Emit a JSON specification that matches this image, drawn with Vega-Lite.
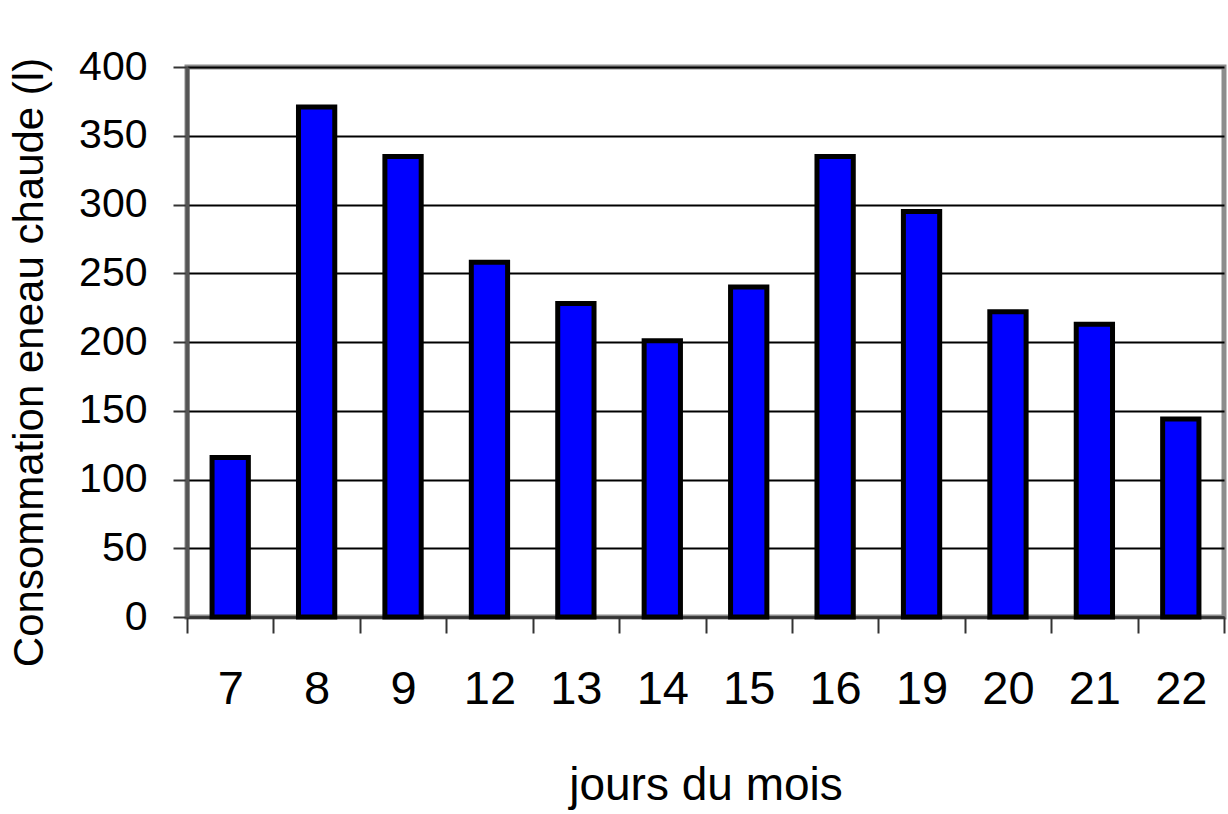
{
  "$schema": "https://vega.github.io/schema/vega-lite/v6.json",
  "autosize": "none",
  "width": 1037,
  "height": 550,
  "padding": {"left": 187, "top": 67, "right": 4, "bottom": 197},
  "background": "white",
  "config": {
    "font": "Liberation Sans",
    "view": {"stroke": "#8c8c8c", "strokeWidth": 5}
  },
  "data": {
    "values": [
      {"jour": 7, "conso": 116},
      {"jour": 8, "conso": 371},
      {"jour": 9, "conso": 335},
      {"jour": 12, "conso": 258},
      {"jour": 13, "conso": 228},
      {"jour": 14, "conso": 201},
      {"jour": 15, "conso": 240},
      {"jour": 16, "conso": 335},
      {"jour": 19, "conso": 295},
      {"jour": 20, "conso": 222},
      {"jour": 21, "conso": 213},
      {"jour": 22, "conso": 144}
    ]
  },
  "mark": {"type": "bar", "fill": "#0000ff", "stroke": "#000000", "strokeWidth": 5, "width": {"band": 0.42}},
  "encoding": {
    "x": {
      "field": "jour",
      "type": "ordinal",
      "scale": {"paddingInner": 0, "paddingOuter": 0},
      "axis": {
        "title": "jours du mois",
        "titleFontSize": 46,
        "titleFontWeight": "normal",
        "titleColor": "#000000",
        "titleY": 146,
        "titleBaseline": "top",
        "labelAngle": 0,
        "labelFontSize": 47,
        "labelColor": "#000000",
        "labelPadding": 33,
        "tickBand": "extent",
        "tickSize": 16,
        "tickWidth": 2,
        "tickColor": "#333333",
        "domainColor": "#333333",
        "domainWidth": 2,
        "grid": false
      }
    },
    "y": {
      "field": "conso",
      "type": "quantitative",
      "scale": {"domain": [0, 400], "nice": false},
      "axis": {
        "title": "Consommation eneau chaude (l)",
        "titleFontSize": 42,
        "titleFontWeight": "normal",
        "titleColor": "#000000",
        "titleX": -145,
        "titleY": 295,
        "titleBaseline": "alphabetic",
        "titleAlign": "center",
        "values": [0, 50, 100, 150, 200, 250, 300, 350, 400],
        "labelFontSize": 41,
        "labelColor": "#000000",
        "labelPadding": 26,
        "tickSize": 14,
        "tickWidth": 2,
        "tickColor": "#333333",
        "domainColor": "#555555",
        "domainWidth": 4,
        "grid": true,
        "gridColor": "#000000",
        "gridWidth": 2
      }
    }
  }
}
